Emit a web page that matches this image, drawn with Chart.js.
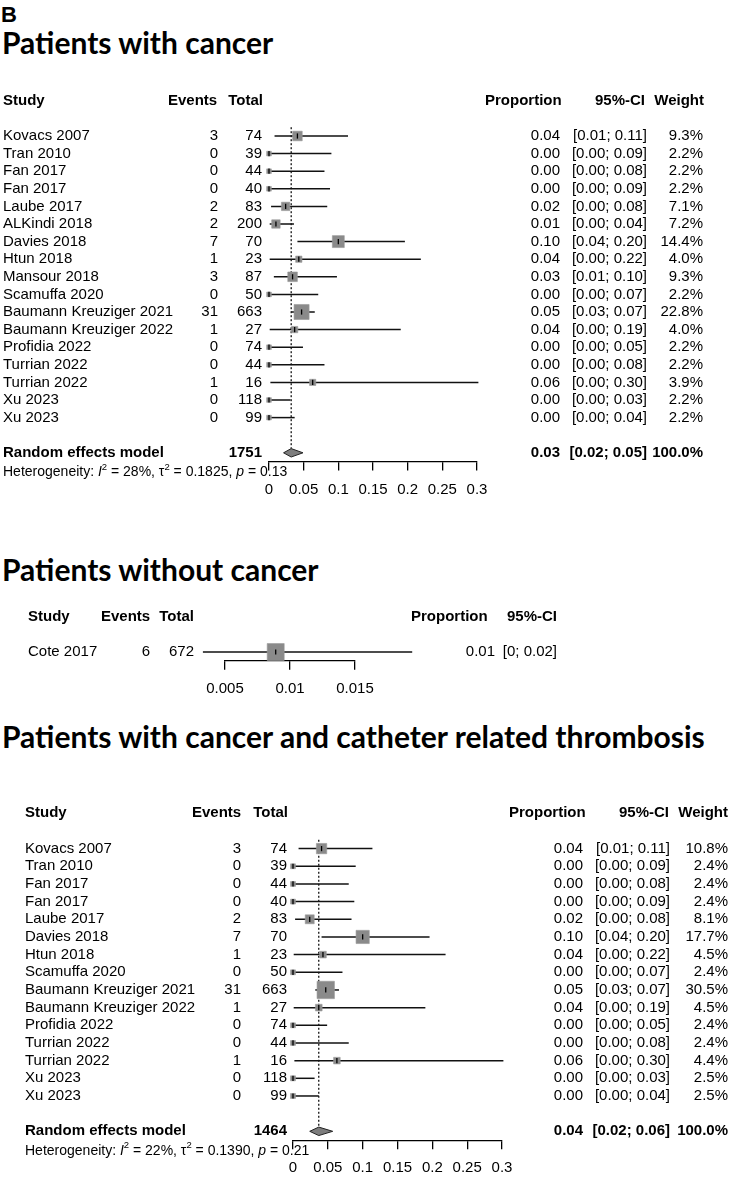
<!DOCTYPE html>
<html>
<head>
<meta charset="utf-8">
<script src="https://cdn.jsdelivr.net/npm/chart.js@4"></script>
<style>
  body { margin: 0; background: #fff; }
  #page { position: relative; width: 730px; height: 1178px; overflow: hidden; background: #fff; }
  #page canvas { position: absolute; left: 0; top: 0; }
  .ttl { position: absolute; left: 2px; font-family: Lato, sans-serif; font-weight: 700; color: #000; white-space: nowrap; line-height: 1; font-size: 30px; }
</style>
</head>
<body>
<div id="page">
  <div class="ttl" style="top:4px;left:1px;font-family:'Liberation Sans';font-size:22px">B</div>
  <div class="ttl" style="top:27px">Patients with cancer</div>
  <div class="ttl" style="top:554px">Patients without cancer</div>
  <div class="ttl" style="top:721px">Patients with cancer and catheter related thrombosis</div>
  <canvas id="c1" width="730" height="504"></canvas>
  <canvas id="c2" width="730" height="710"></canvas>
  <canvas id="c3" width="730" height="1178"></canvas>
</div>
<script>
// ---- panel 1: patients with cancer
const studies1 = ['Kovacs 2007', 'Tran 2010', 'Fan 2017', 'Fan 2017', 'Laube 2017', 'ALKindi 2018', 'Davies 2018', 'Htun 2018', 'Mansour 2018', 'Scamuffa 2020', 'Baumann Kreuziger 2021', 'Baumann Kreuziger 2022', 'Profidia 2022', 'Turrian 2022', 'Turrian 2022', 'Xu 2023', 'Xu 2023']
const events1 = [3, 0, 0, 0, 2, 2, 7, 1, 3, 0, 31, 1, 0, 0, 1, 0, 0]
const totals1 = [74, 39, 44, 40, 83, 200, 70, 23, 87, 50, 663, 27, 74, 44, 16, 118, 99]
const prop1 = [0.041, 0, 0, 0, 0.024, 0.010, 0.100, 0.043, 0.034, 0, 0.047, 0.037, 0, 0, 0.063, 0, 0]
const low1 = [0.008, 0, 0, 0, 0.003, 0.001, 0.041, 0.001, 0.007, 0, 0.032, 0.001, 0, 0, 0.002, 0, 0]
const high1 = [0.114, 0.090, 0.080, 0.088, 0.084, 0.036, 0.196, 0.219, 0.098, 0.071, 0.066, 0.190, 0.049, 0.080, 0.302, 0.031, 0.037]
const weight1 = [9.3, 2.2, 2.2, 2.2, 7.1, 7.2, 14.4, 4.0, 9.3, 2.2, 22.8, 4.0, 2.2, 2.2, 3.9, 2.2, 2.2]
const pooled1 = [0.032, 0.021, 0.049]   // estimate, lower, upper
const total1 = 1751
const het1 = ['28%', '0.1825', '0.13']  // I2, tau2, p

// ---- panel 2: patients without cancer
const studies2 = ['Cote 2017']
const events2 = [6]
const totals2 = [672]
const prop2 = [0.0089]
const low2 = [0.0033]
const high2 = [0.0194]
const weight2 = [100]

// ---- panel 3: cancer and catheter related thrombosis
const studies3 = ['Kovacs 2007', 'Tran 2010', 'Fan 2017', 'Fan 2017', 'Laube 2017', 'Davies 2018', 'Htun 2018', 'Scamuffa 2020', 'Baumann Kreuziger 2021', 'Baumann Kreuziger 2022', 'Profidia 2022', 'Turrian 2022', 'Turrian 2022', 'Xu 2023', 'Xu 2023']
const events3 = [3, 0, 0, 0, 2, 7, 1, 0, 31, 1, 0, 0, 1, 0, 0]
const totals3 = [74, 39, 44, 40, 83, 70, 23, 50, 663, 27, 74, 44, 16, 118, 99]
const prop3 = [0.041, 0, 0, 0, 0.024, 0.100, 0.043, 0, 0.047, 0.037, 0, 0, 0.063, 0, 0]
const low3 = [0.008, 0, 0, 0, 0.003, 0.041, 0.001, 0, 0.032, 0.001, 0, 0, 0.002, 0, 0]
const high3 = [0.114, 0.090, 0.080, 0.088, 0.084, 0.196, 0.219, 0.071, 0.066, 0.190, 0.049, 0.080, 0.302, 0.031, 0.037]
const weight3 = [10.8, 2.4, 2.4, 2.4, 8.1, 17.7, 4.5, 2.4, 30.5, 4.5, 2.4, 2.4, 4.4, 2.5, 2.5]
const pooled3 = [0.037, 0.024, 0.057]
const total3 = 1464
const het3 = ['22%', '0.1390', '0.21']

const xTicks = [0, 0.05, 0.1, 0.15, 0.2, 0.25, 0.3]
const xTicks2 = [0.005, 0.01, 0.015]

const FONT = '"Liberation Sans", Arial, sans-serif'
const fix2 = (v) => v.toFixed(2)
const short2 = (v) => String(Number(v.toFixed(2)))

const drawRich = function (c, parts, x, y) {
  parts.forEach(([t, st]) => {
    if (st === 's') {
      c.font = '9.5px ' + FONT
      c.fillText(t, x, y - 5)
    } else {
      c.font = (st === 'i' ? 'italic ' : '') + '14px ' + FONT
      c.fillText(t, x, y)
    }
    x += c.measureText(t).width
  })
}

const tablePlugin = (p) => ({
  id: 'table' + p.id,
  afterDraw(chart) {
    const c = chart.ctx
    const ys = chart.scales.y
    const col = p.cols
    const n = p.studies.length
    c.save()
    c.fillStyle = '#000'
    c.textBaseline = 'middle'
    // header
    c.font = 'bold 15px ' + FONT
    const yh = ys.getPixelForValue(-1)
    p.heads.forEach(([t, x, a]) => {
      c.textAlign = a
      c.fillText(t, x, yh)
    })
    // study rows
    c.font = '15px ' + FONT
    p.studies.forEach((s, i) => {
      const y = ys.getPixelForValue(i + 1)
      c.textAlign = 'left'
      c.fillText(s, col.study, y)
      c.textAlign = 'right'
      c.fillText(String(p.events[i]), col.events, y)
      c.fillText(String(p.totals[i]), col.total, y)
      c.fillText(p.fmt(p.prop[i]), col.prop, y)
      c.fillText('[' + p.fmt(p.low[i]) + '; ' + p.fmt(p.high[i]) + ']', col.ci, y)
      if (col.weight) c.fillText(p.weight[i].toFixed(1) + '%', col.weight, y)
    })
    // pooled row
    if (p.pooled) {
      const y = ys.getPixelForValue(n + 2)
      c.font = 'bold 15px ' + FONT
      c.textAlign = 'left'
      c.fillText('Random effects model', col.study, y)
      c.textAlign = 'right'
      c.fillText(String(p.total), col.total, y)
      c.fillText(fix2(p.pooled[0]), col.prop, y)
      c.fillText('[' + fix2(p.pooled[1]) + '; ' + fix2(p.pooled[2]) + ']', col.ci, y)
      c.fillText('100.0%', col.weight, y)
      c.textAlign = 'left'
      drawRich(c, [
        ['Heterogeneity: ', ''], ['I', 'i'], ['2', 's'], [' = ' + p.het[0] + ', ', ''],
        ['\u03c4', ''], ['2', 's'], [' = ' + p.het[1] + ', ', ''], ['p', 'i'], [' = ' + p.het[2], '']
      ], col.study, ys.getPixelForValue(n + 3.1))
    }
    c.restore()
  }
})

const buildPanel = function (p) {
  const n = p.studies.length
  const ymax = p.pooled ? n + 2.5 : n + 0.5
  const top = p.row1 - 2.5 * p.sp
  const bottom = top + (ymax + 1.5) * p.sp
  const canvas = document.getElementById(p.id)
  const H = canvas.height
  const pts = p.prop.map((v, i) => ({ x: v, y: i + 1 }))

  const datasets = [
    {
      type: 'scatter', data: pts, pointStyle: 'line', pointRotation: 90, pointRadius: 2.6,
      borderColor: '#000', borderWidth: 1.3, clip: false,
    },
    {
      type: 'scatter', data: pts, pointStyle: 'rect',
      pointRadius: p.weight.map((w) => (p.sq * Math.sqrt(w)) / Math.SQRT2),
      backgroundColor: '#8a8a8a', borderColor: '#9a9a9a', borderWidth: 0.6, clip: false,
    },
    {
      type: 'bar', indexAxis: 'y', data: p.low.map((lo, i) => ({ x: [lo, p.high[i]], y: i + 1 })),
      backgroundColor: '#111', barThickness: 1.5, inflateAmount: 0, clip: false,
    },
  ]
  if (p.pooled) {
    const [est, lo, hi] = p.pooled
    const r = n + 2
    datasets.push({
      type: 'line', data: [{ x: lo, y: r }, { x: est, y: r - 0.24 }, { x: hi, y: r }, { x: est, y: r + 0.24 }, { x: lo, y: r }],
      borderColor: '#222', borderWidth: 1, backgroundColor: '#7d7d7d', fill: 'shape', pointRadius: 0, tension: 0,
    })
    datasets.push({
      type: 'line', data: [{ x: est, y: 0.5 }, { x: est, y: r - 0.24 }],
      borderColor: '#000', borderWidth: 1.2, borderDash: [2, 2], pointRadius: 0, fill: false,
    })
  }

  return new Chart(canvas, {
    type: 'scatter',
    data: { datasets },
    plugins: [tablePlugin(p)],
    options: {
      responsive: false,
      animation: false,
      devicePixelRatio: 1,
      events: [],
      layout: { padding: { left: p.x0, right: 730 - p.x1, top: top, bottom: 0 } },
      plugins: { legend: { display: false }, tooltip: { enabled: false } },
      scales: {
        x: {
          type: 'linear', position: 'bottom', offset: false, min: p.ticks[0], max: p.ticks[p.ticks.length - 1],
          afterFit: (s) => { s.height = H - bottom },
          afterBuildTicks: (s) => { s.ticks = p.ticks.map((v) => ({ value: v })) },
          grid: { drawOnChartArea: false, drawTicks: true, tickLength: 9, color: '#000', lineWidth: 1.3, offset: false },
          border: { display: true, color: '#000', width: 1.3 },
          ticks: {
            color: '#000', font: { family: 'Liberation Sans', size: 15 }, padding: 10,
            maxRotation: 0, autoSkip: false, callback: (v) => String(v),
          },
        },
        y: { type: 'linear', reverse: true, offset: false, min: -1.5, max: ymax, display: false, grid: { offset: false } },
      },
    },
  })
}

document.addEventListener('DOMContentLoaded', function () {
  buildPanel({
    id: 'c1', studies: studies1, events: events1, totals: totals1, prop: prop1, low: low1, high: high1,
    weight: weight1, pooled: pooled1, total: total1, het: het1, fmt: fix2, ticks: xTicks,
    row1: 136, sp: 17.6, x0: 269, x1: 477, sq: 3.15,
    cols: { study: 3, events: 218, total: 262, prop: 560, ci: 647, weight: 703 },
    heads: [['Study', 3, 'left'], ['Events', 168, 'left'], ['Total', 263, 'right'], ['Proportion', 485, 'left'], ['95%-CI', 645, 'right'], ['Weight', 704, 'right']],
  })
  buildPanel({
    id: 'c2', studies: studies2, events: events2, totals: totals2, prop: prop2, low: low2, high: high2,
    weight: weight2, pooled: null, fmt: short2, ticks: xTicks2,
    row1: 652, sp: 17.6, x0: 225, x1: 355, sq: 1.7,
    cols: { study: 28, events: 150, total: 194, prop: 495, ci: 557 },
    heads: [['Study', 28, 'left'], ['Events', 101, 'left'], ['Total', 194, 'right'], ['Proportion', 411, 'left'], ['95%-CI', 557, 'right']],
  })
  buildPanel({
    id: 'c3', studies: studies3, events: events3, totals: totals3, prop: prop3, low: low3, high: high3,
    weight: weight3, pooled: pooled3, total: total3, het: het3, fmt: fix2, ticks: xTicks,
    row1: 848.6, sp: 17.67, x0: 293, x1: 502, sq: 3.15,
    cols: { study: 25, events: 241, total: 287, prop: 583, ci: 670, weight: 728 },
    heads: [['Study', 25, 'left'], ['Events', 192, 'left'], ['Total', 288, 'right'], ['Proportion', 509, 'left'], ['95%-CI', 669, 'right'], ['Weight', 728, 'right']],
  })
})
</script>
</body>
</html>
